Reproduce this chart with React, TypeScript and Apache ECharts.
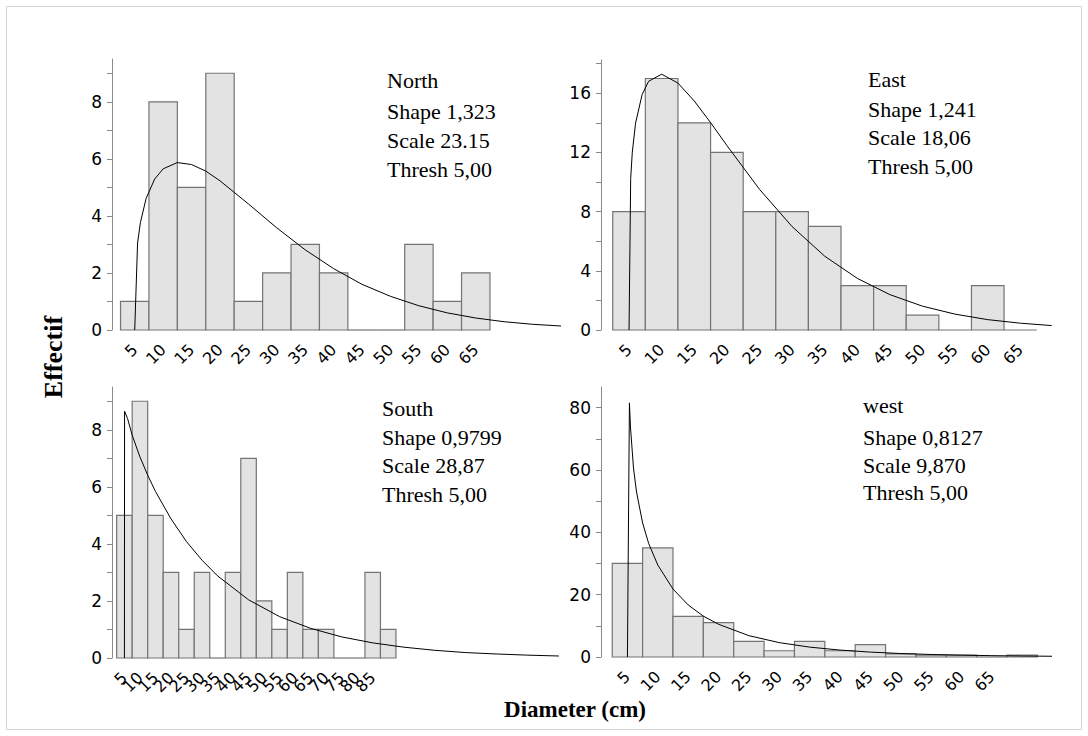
import React, { useEffect, useRef } from "react";
import * as echarts from "echarts";

// ---------- DATA ----------
const BIN = 5;

const northCenters = [5, 10, 15, 20, 25, 30, 35, 40, 45, 50, 55, 60, 65];
const northCounts = [1, 8, 5, 9, 1, 2, 3, 2, 0, 0, 3, 1, 2];
const eastCenters = [5, 10, 15, 20, 25, 30, 35, 40, 45, 50, 55, 60, 65];
const eastCounts = [8, 17, 14, 12, 8, 8, 7, 3, 3, 1, 0, 3, 0];
const southCenters = [5, 10, 15, 20, 25, 30, 35, 40, 45, 50, 55, 60, 65, 70, 75, 80, 85, 90];
const southCounts = [5, 9, 5, 3, 1, 3, 0, 3, 7, 2, 1, 3, 1, 1, 0, 0, 3, 1];
const westCenters = [5, 10, 15, 20, 25, 30, 35, 40, 45, 50, 55, 60, 65, 70];
const westCounts = [30, 35, 13, 11, 5, 2, 5, 2, 4, 1, 0.6, 0.6, 0, 0.6];

// fitted curves
const northCurveX = [5, 5.5, 6, 7, 8.5, 10, 12.5, 15, 17.5, 20, 25, 30, 35, 40, 45, 50, 55, 60, 65, 70, 75, 80];
const northCurveY = [0, 3.05, 3.77, 4.61, 5.29, 5.65, 5.87, 5.8, 5.57, 5.23, 4.42, 3.58, 2.81, 2.15, 1.6, 1.18, 0.85, 0.6, 0.42, 0.29, 0.2, 0.14];
const eastCurveX = [5, 5.25, 5.5, 6, 7, 8, 10, 12.5, 15, 17.5, 20, 25, 30, 35, 40, 45, 50, 55, 60, 65, 69.8];
const eastCurveY = [0, 10.24, 12.02, 13.98, 15.91, 16.81, 17.29, 16.69, 15.48, 14.02, 12.47, 9.51, 6.99, 4.99, 3.49, 2.39, 1.61, 1.07, 0.7, 0.46, 0.3];
const southCurveX = [5, 5.05, 6, 7.5, 10, 12.5, 15, 20, 25, 30, 35, 45, 55, 65, 75, 85, 95, 105, 115, 125, 135, 145];
const southCurveY = [0, 8.65, 8.4, 7.81, 7.05, 6.41, 5.84, 4.88, 4.08, 3.43, 2.88, 2.04, 1.45, 1.04, 0.74, 0.53, 0.38, 0.27, 0.19, 0.14, 0.1, 0.07];
const westCurveX = [5, 5.33, 5.5, 6, 6.5, 7.5, 8.5, 10, 12.5, 15, 17.5, 20, 25, 30, 35, 40, 45, 50, 55, 60, 65, 70, 74.9];
const westCurveY = [0, 81.5, 73.8, 60.6, 52.9, 43.0, 36.4, 29.5, 21.8, 16.7, 13.1, 10.5, 6.84, 4.61, 3.17, 2.22, 1.57, 1.12, 0.81, 0.59, 0.43, 0.32, 0.24];

// tick labels
const xLabelsStd = [5, 10, 15, 20, 25, 30, 35, 40, 45, 50, 55, 60, 65];
const xLabelsSouth = [5, 10, 15, 20, 25, 30, 35, 40, 45, 50, 55, 60, 65, 70, 75, 80, 85];
const yTicksSmall = [0, 1, 2, 3, 4, 5, 6, 7, 8, 9];
const yLabelsSmall = [0, 2, 4, 6, 8];
const yTicksEast = [0, 2, 4, 6, 8, 10, 12, 14, 16, 18];
const yLabelsEast = [0, 4, 8, 12, 16];
const yTicksWest = [0, 10, 20, 30, 40, 50, 60, 70, 80];
const yLabelsWest = [0, 20, 40, 60, 80];

// annotations
const northText = ["North", "Shape 1,323", "Scale 23.15", "Thresh 5,00"];
const eastText = ["East", "Shape 1,241", "Scale 18,06", "Thresh 5,00"];
const southText = ["South", "Shape 0,9799", "Scale 28,87", "Thresh 5,00"];
const westText = ["west", "Shape 0,8127", "Scale 9,870", "Thresh 5,00"];
const yTitle = "Effectif";
const xTitle = "Diameter (cm)";

// ---------- LAYOUT ----------
const grids = [
  { left: 112, top: 59, width: 449, height: 271 },
  { left: 601, top: 60, width: 451, height: 270 },
  { left: 112, top: 387, width: 450, height: 271 },
  { left: 601, top: 387, width: 451, height: 270 },
];
const xRanges = [
  [1, 80],
  [0.7, 69.85],
  [1, 146],
  [0.65, 74.9],
];
const yMax = [9.5, 18.25, 9.5, 86.6];

const annotPos = [
  { x: 387, baselines: [88.3, 119.3, 148.3, 176.7] },
  { x: 868, baselines: [86.7, 116.7, 145, 174] },
  { x: 382, baselines: [416, 445, 473.3, 501.7] },
  { x: 863, baselines: [413.3, 445, 473.3, 500] },
];

const BAR_FILL = "#e3e3e3";
const BAR_STROKE = "#747474";
const AXIS_COLOR = "#8a8a8a";
const TICK_FONT = "DejaVu Sans";

function App() {
  const ref = useRef<HTMLDivElement>(null);

  useEffect(() => {
    document.body.style.margin = "0";
    if (!ref.current) return;
    const chart = echarts.init(ref.current, null, { renderer: "svg" });

    const panels = [
      { centers: northCenters, counts: northCounts, cx: northCurveX, cy: northCurveY, xl: xLabelsStd, yt: yTicksSmall, yl: yLabelsSmall, text: northText },
      { centers: eastCenters, counts: eastCounts, cx: eastCurveX, cy: eastCurveY, xl: xLabelsStd, yt: yTicksEast, yl: yLabelsEast, text: eastText },
      { centers: southCenters, counts: southCounts, cx: southCurveX, cy: southCurveY, xl: xLabelsSouth, yt: yTicksSmall, yl: yLabelsSmall, text: southText },
      { centers: westCenters, counts: westCounts, cx: westCurveX, cy: westCurveY, xl: xLabelsStd, yt: yTicksWest, yl: yLabelsWest, text: westText },
    ];

    const renderBar = (params: any, api: any) => {
      const c = api.value(0);
      const v = api.value(1);
      const p0 = api.coord([c - BIN / 2, 0]);
      const p1 = api.coord([c + BIN / 2, v]);
      if (v === 0) {
        return {
          type: "line",
          shape: { x1: p0[0], y1: p0[1], x2: p1[0], y2: p0[1] },
          style: { stroke: BAR_STROKE, lineWidth: 1.2 },
        };
      }
      return {
        type: "rect",
        shape: { x: p0[0], y: p1[1], width: p1[0] - p0[0], height: p0[1] - p1[1] },
        style: { fill: BAR_FILL, stroke: BAR_STROKE, lineWidth: 1.2 },
      };
    };

    const makeX = (gridIndex: number, labels: number[]) => ({
      type: "value",
      gridIndex,
      position: "bottom",
      min: xRanges[gridIndex][0],
      max: xRanges[gridIndex][1],
      axisLine: { show: false },
      axisTick: { show: false },
      splitLine: { show: false },
      axisLabel: {
        customValues: labels,
        rotate: 45,
        margin: 17,
        fontSize: 16,
        fontFamily: TICK_FONT,
        color: "#000",
        showMinLabel: true,
        showMaxLabel: true,
        hideOverlap: false,
      },
    });

    // South labels are split between two overlaid axes so none is dropped
    const southOdd = xLabelsSouth.filter((_, k) => k % 2 === 0);
    const southEven = xLabelsSouth.filter((_, k) => k % 2 === 1);

    const xAxis = [
      makeX(0, panels[0].xl),
      makeX(1, panels[1].xl),
      makeX(2, southOdd),
      makeX(3, panels[3].xl),
      makeX(2, southEven),
    ];

    const yAxis = panels.map((p, i) => ({
      type: "value",
      gridIndex: i,
      min: 0,
      max: yMax[i],
      axisLine: { show: true, lineStyle: { color: AXIS_COLOR, width: 1 } },
      axisTick: { show: true, length: 5, customValues: p.yt, lineStyle: { color: AXIS_COLOR } },
      splitLine: { show: false },
      axisLabel: {
        customValues: p.yl,
        margin: 10,
        fontSize: 17,
        fontFamily: TICK_FONT,
        color: "#000",
        showMinLabel: true,
        showMaxLabel: true,
      },
    }));

    const series: any[] = [];
    panels.forEach((p, i) => {
      series.push({
        type: "custom",
        xAxisIndex: i,
        yAxisIndex: i,
        renderItem: renderBar,
        data: p.centers.map((c, k) => [c, p.counts[k]]),
        z: 2,
      });
      series.push({
        type: "line",
        xAxisIndex: i,
        yAxisIndex: i,
        data: p.cx.map((x, k) => [x, p.cy[k]]),
        showSymbol: false,
        symbol: "none",
        lineStyle: { color: "#000", width: 1 },
        z: 3,
      });
    });

    const ANNOT_SIZE = 22;
    const graphic: any[] = [
      {
        type: "rect",
        shape: { x: 6.5, y: 6.5, width: 1075, height: 723 },
        style: { fill: "none", stroke: "#d6d6d6", lineWidth: 1 },
        silent: true,
      },
    ];
    panels.forEach((p, i) => {
      p.text.forEach((t, k) => {
        graphic.push({
          type: "text",
          x: annotPos[i].x,
          y: annotPos[i].baselines[k] - 0.34 * ANNOT_SIZE,
          style: {
            text: t,
            fill: "#000",
            fontFamily: "Liberation Serif",
            fontSize: ANNOT_SIZE,
            textAlign: "left",
            textVerticalAlign: "middle",
          },
        });
      });
    });
    graphic.push({
      type: "text",
      x: 53,
      y: 357,
      rotation: Math.PI / 2,
      style: {
        text: yTitle,
        fill: "#000",
        fontFamily: "Liberation Serif",
        fontWeight: "bold",
        fontSize: 26,
        textAlign: "center",
        textVerticalAlign: "middle",
      },
    });
    graphic.push({
      type: "text",
      x: 575,
      y: 709,
      style: {
        text: xTitle,
        fill: "#000",
        fontFamily: "Liberation Serif",
        fontWeight: "bold",
        fontSize: 23,
        textAlign: "center",
        textVerticalAlign: "middle",
      },
    });

    chart.setOption({
      animation: false,
      backgroundColor: "#fff",
      grid: grids.map((g) => ({ ...g, containLabel: false })),
      xAxis,
      yAxis,
      series,
      graphic,
    });

    return () => chart.dispose();
  }, []);

  return <div ref={ref} style={{ width: 1088, height: 736 }} />;
}

export default App;
